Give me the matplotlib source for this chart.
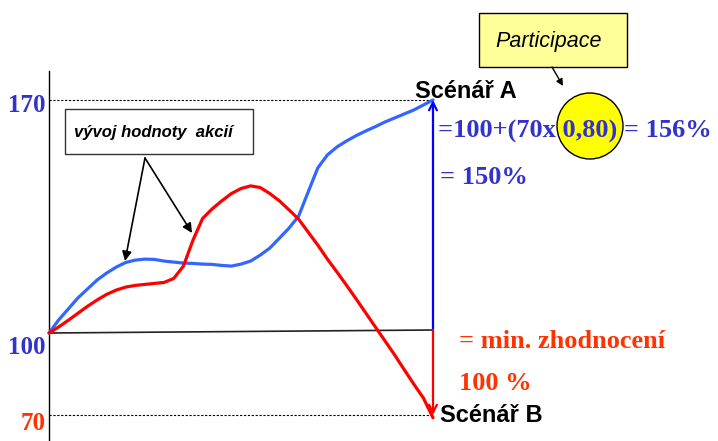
import numpy as np
import matplotlib
matplotlib.use("Agg")
import matplotlib.pyplot as plt
from matplotlib.patches import Rectangle, Ellipse

# ---- data ----
t = [i * 0.25 for i in range(41)]
blue_vals = [100.0, 103.9, 107.2, 110.5, 113.2, 115.9, 118.0, 119.8, 121.2, 121.9,
             122.2, 122.1, 121.6, 121.3, 121.0, 120.9, 120.7, 120.6, 120.3, 120.1,
             120.7, 121.6, 123.4, 125.5, 128.5, 131.5, 135.1, 142.4, 149.6, 153.5,
             155.9, 157.7, 159.3, 160.7, 162.0, 163.4, 164.6, 165.8, 167.0, 168.5, 170.0]
red_vals = [100.0, 101.8, 103.8, 105.9, 108.0, 109.9, 111.6, 112.9, 113.8, 114.3,
            114.6, 114.9, 115.2, 116.4, 120.1, 127.9, 134.4, 137.3, 139.7, 141.9,
            143.4, 144.2, 143.7, 141.9, 139.7, 137.0, 134.2, 130.3, 126.4, 122.2,
            118.3, 114.3, 110.2, 106.0, 101.8, 97.1, 92.0, 86.6, 81.3, 76.2, 69.0]
level_ticks = [170, 100, 70]
level_colors = ["#3333cc", "#3333cc", "#ff3300"]
t_end = 10
baseline_end = 100.9

# ---- scale (diagram is not linear in y) ----
def fwd(v):
    v = np.asarray(v, dtype=float)
    return np.where(v >= 100, (v - 100) * 233 / 70, (v - 100) * 82 / 30)

def inv(f):
    f = np.asarray(f, dtype=float)
    return np.where(f >= 0, 100 + f * 70 / 233, 100 + f * 30 / 82)

W, H = 718, 441
fig = plt.figure(figsize=(W / 100, H / 100), dpi=100)
ax = fig.add_axes([0, 0, 1, 1])
ax.set_yscale("function", functions=(fwd, inv))
ax.set_xlim(-49 / 38.4, (W - 49) / 38.4)
ax.set_ylim(float(inv(-108)), float(inv(333)))
for s in ["top", "right", "bottom"]:
    ax.spines[s].set_visible(False)
ax.spines["left"].set_position(("data", 0))
ax.spines["left"].set_bounds(float(inv(-108)), float(inv(262)))
ax.spines["left"].set_linewidth(1.0)
ax.set_xticks([])
ax.set_yticks([])
ax.patch.set_alpha(0)

# dotted reference levels
ax.plot([0, t_end], [170, 170], ls=(0, (2, 1.5)), color="black", lw=0.8)
ax.plot([0, t_end], [70, 70], ls=(0, (2, 1.5)), color="black", lw=0.8)
# baseline
ax.plot([0, t_end], [100, baseline_end], color="#222222", lw=1.2)

# curves
ax.plot(t, blue_vals, color="#3366ff", lw=2.3, solid_capstyle="round", solid_joinstyle="round", zorder=3)
ax.plot(t, red_vals, color="#ff0000", lw=2.3, solid_capstyle="round", solid_joinstyle="round", zorder=3)

# scenario arrows
ax.annotate("", xy=(t_end, 170), xytext=(t_end, baseline_end),
            arrowprops=dict(arrowstyle="->", color="#0000ff", lw=1.6, mutation_scale=14, shrinkA=0, shrinkB=0))
ax.annotate("", xy=(t_end, 70), xytext=(t_end, baseline_end),
            arrowprops=dict(arrowstyle="->", color="#ff0000", lw=1.6, mutation_scale=14, shrinkA=0, shrinkB=0))

# level labels
label_offsets = [-6, -14, -8]
for v, c, off in zip(level_ticks, level_colors, label_offsets):
    ax.annotate(str(v), xy=(0, v), xytext=(-3, off), textcoords="offset pixels",
                ha="right", va="center", color=c, fontsize=18, fontweight="bold",
                family="Liberation Serif")

# ---- annotation overlay in pixel coordinates ----
ov = fig.add_axes([0, 0, 1, 1])
ov.set_xlim(0, W)
ov.set_ylim(H, 0)
ov.axis("off")
ov.patch.set_alpha(0)

sans = "Liberation Sans"
serif = "Liberation Serif"
blue_t = "#3333cc"
red_t = "#ff3300"

# "vývoj hodnoty akcií" box
ov.add_patch(Rectangle((65, 109), 188, 45, facecolor="white", edgecolor="#333333", lw=1.0, zorder=4))
ov.text(74, 132, "vývoj hodnoty  akcií", ha="left", va="center", fontsize=12,
        fontweight="bold", style="italic", family=sans, zorder=5)
for tx, ty in [(125, 261), (192, 233)]:
    ov.annotate("", xy=(tx, ty), xytext=(145, 158),
                arrowprops=dict(arrowstyle="-|>", color="black", lw=1.2, mutation_scale=14,
                                shrinkA=0, shrinkB=0), zorder=5)

# Participace box
ov.add_patch(Rectangle((479, 13), 148, 54, facecolor="#ffff99", edgecolor="black", lw=1.0, zorder=4))
ov.text(549, 42, "Participace", ha="center", va="center", fontsize=15.5,
        style="italic", family=sans, zorder=5)
ov.annotate("", xy=(563, 86), xytext=(552, 67),
            arrowprops=dict(arrowstyle="-|>", color="black", lw=1.0, mutation_scale=10,
                            shrinkA=0, shrinkB=0), zorder=5)

# scenario labels
ov.text(415, 92, "Scénář A", ha="left", va="center", fontsize=17, fontweight="bold", family=sans, zorder=6)
ov.text(440, 416, "Scénář B", ha="left", va="center", fontsize=17, fontweight="bold", family=sans, zorder=6)

# yellow circle and formula
ov.add_patch(Ellipse((590, 126), 66, 66, facecolor="#ffff00", edgecolor="black", lw=1.0, zorder=4))
ov.text(438, 131, "=100+(70x 0,80) = 156%", ha="left", va="center", fontsize=19,
        fontweight="bold", family=serif, color=blue_t, zorder=6)
ov.text(440, 177, "= 150%", ha="left", va="center", fontsize=19,
        fontweight="bold", family=serif, color=blue_t, zorder=6)

ov.text(459, 341, "= min. zhodnocení", ha="left", va="center", fontsize=19,
        fontweight="bold", family=serif, color=red_t, zorder=6)
ov.text(459, 384, "100 %", ha="left", va="center", fontsize=19,
        fontweight="bold", family=serif, color=red_t, zorder=6)

fig.savefig("out.png", dpi=100)
